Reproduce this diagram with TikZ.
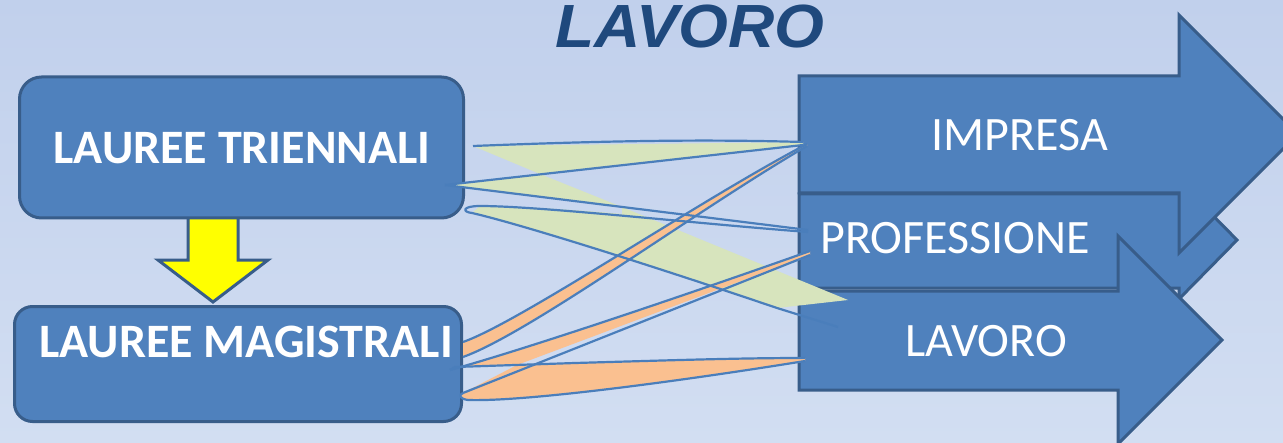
\documentclass[tikz,border=0pt]{standalone}
\usepackage{fontspec}
\setmainfont{Carlito}
\newfontfamily\titlefont{Liberation Sans}
\definecolor{bgtop}{RGB}{193,208,236}
\definecolor{bgbot}{RGB}{210,222,242}
\definecolor{fillblue}{RGB}{79,129,189}
\definecolor{bdr}{RGB}{56,93,138}
\definecolor{lnblue}{RGB}{74,126,187}
\definecolor{grn}{RGB}{215,228,189}
\definecolor{org}{RGB}{250,192,144}
\definecolor{ylw}{RGB}{255,255,0}
\definecolor{titleblue}{RGB}{31,73,125}
\begin{document}
\begin{tikzpicture}[x=0.5pt,y=-0.5pt,
  box/.style={draw=bdr,line width=1.5pt,fill=fillblue,rounded corners=11pt,inner sep=0pt},
  bigarrow/.style={draw=bdr,line width=1.5pt,fill=fillblue,line join=miter},
  downarrow/.style={draw=bdr,line width=1.5pt,fill=ylw,line join=miter},
  conn/.style={draw=lnblue,line width=1.1pt},
  gfill/.style={fill=grn},
  ofill/.style={fill=org},
  boxtext/.style={text=white,font=\fontsize{24}{29}\selectfont\bfseries,anchor=base,inner sep=0pt},
  arrtext/.style={text=white,font=\fontsize{24}{29}\selectfont,anchor=base,inner sep=0pt},
  titletext/.style={text=titleblue,font=\titlefont\fontsize{30.5}{36}\selectfont\bfseries\itshape,anchor=base,inner sep=0pt}
]
\useasboundingbox (0,0) rectangle (1283,443);
\clip (0,0) rectangle (1283,443);
\fill[top color=bgtop,bottom color=bgbot] (0,0) rectangle (1283,443);

% title
\node[titletext,xscale=1.05] (title) at (690,48) {LAVORO};

% yellow down arrow (drawn under the boxes)
\draw[downarrow] (188,212) -- (188,260) -- (158,260) -- (213,302) -- (268,260) -- (238,260) -- (238,212) -- cycle;

% left boxes
\node[box,minimum width=222pt,minimum height=70.5pt] (tri) at (241.5,147.5) {};
\node[box,minimum width=223.5pt,minimum height=57.5pt,rounded corners=9pt] (mag) at (238,364) {};
\node[boxtext] (tritext) at (242,164) {LAUREE TRIENNALI};
\node[boxtext] (magtext) at (246,357) {LAUREE MAGISTRALI};

% right arrows
\draw[bigarrow] (799,194) -- (1179,194) -- (1179,181) -- (1237,240) -- (1179,299) -- (1179,288) -- (799,288) -- cycle;
\draw[bigarrow] (799,76) -- (1179,76) -- (1179,15) -- (1298,134) -- (1179,253) -- (1179,193) -- (799,193) -- cycle;
\draw[bigarrow] (799,291) -- (1118,291) -- (1118,236) -- (1222,340) -- (1118,444) -- (1118,390) -- (799,390) -- cycle;
\node[arrtext] (imp) at (1020,151) {IMPRESA};
\node[arrtext] (prof) at (955,253) {PROFESSIONE};
\node[arrtext] (lav) at (986,356) {LAVORO};

% connector end points
\coordinate (tA) at (473,146);
\coordinate (tTip) at (445,185);
\coordinate (impA) at (803,142);
\coordinate (impB) at (803,145);
\coordinate (impC) at (807,144);
\coordinate (impD) at (807,146);
\coordinate (profA) at (808,230);
\coordinate (profB) at (808,232);
\coordinate (profC) at (810,251);
\coordinate (profD) at (810,255);
\coordinate (lavA) at (848,300);
\coordinate (lavB) at (777,308);
\coordinate (lavC) at (838,327);
\coordinate (lavD) at (805,358);
\coordinate (lavE) at (805,361);
\coordinate (mA) at (463,342);
\coordinate (mB) at (463,357);
\coordinate (mTip) at (450,370);
\coordinate (mD) at (455,367);
\coordinate (mE) at (463,393);
\coordinate (xG) at (540,174);
\coordinate (xH) at (622,207);
\coordinate (xO) at (517,365);

% green fills
\fill[gfill] (tA) -- (impA) -- (impB) -- (xG) -- cycle;
\fill[gfill] (xG) -- (tTip) -- (xH) -- cycle;
\fill[gfill] (xH) -- (lavA) -- (lavB) .. controls (650,265) and (520,224) .. (472,213) -- (480,206) .. controls (540,207) and (600,212) .. (622,214) -- cycle;

% orange fills
\fill[ofill] (mA) .. controls (520,322) and (700,200) .. (impC) -- (impD) .. controls (700,208) and (530,333) .. (mB) -- cycle;
\fill[ofill] (mTip) .. controls (530,348) and (700,290) .. (profC) -- (profD) -- (xO) -- (mD) -- cycle;
\fill[ofill] (mE) -- (xO) -- (575,363) .. controls (680,360) and (740,358) .. (lavD) -- (lavE) .. controls (700,378) and (530,402) .. (468,400) .. controls (460,399) and (458,395) .. (mE) -- cycle;

% connector strokes: LAUREE TRIENNALI
\draw[conn] (tA) .. controls (600,141) and (700,139) .. (impA);
\draw[conn] (impB) -- (tTip);
\draw[conn] (tTip) -- (profA);
\draw[conn] (profB) .. controls (700,224) and (540,206) .. (480,206) .. controls (462,206) and (462,212) .. (472,213) .. controls (520,224) and (650,265) .. (lavB) -- (lavC);

% connector strokes: LAUREE MAGISTRALI
\draw[conn] (mA) .. controls (520,322) and (700,200) .. (impC);
\draw[conn] (mB) .. controls (530,333) and (700,208) .. (impD);
\draw[conn] (mTip) .. controls (530,348) and (700,290) .. (profC);
\draw[conn] (mTip) -- (mD);
\draw[conn] (mE) -- (profD);
\draw[conn] (mD) -- (575,363) .. controls (680,360) and (740,358) .. (lavD);
\draw[conn] (lavE) .. controls (700,378) and (530,402) .. (468,400) .. controls (460,399) and (458,395) .. (mE);
\end{tikzpicture}
\end{document}
